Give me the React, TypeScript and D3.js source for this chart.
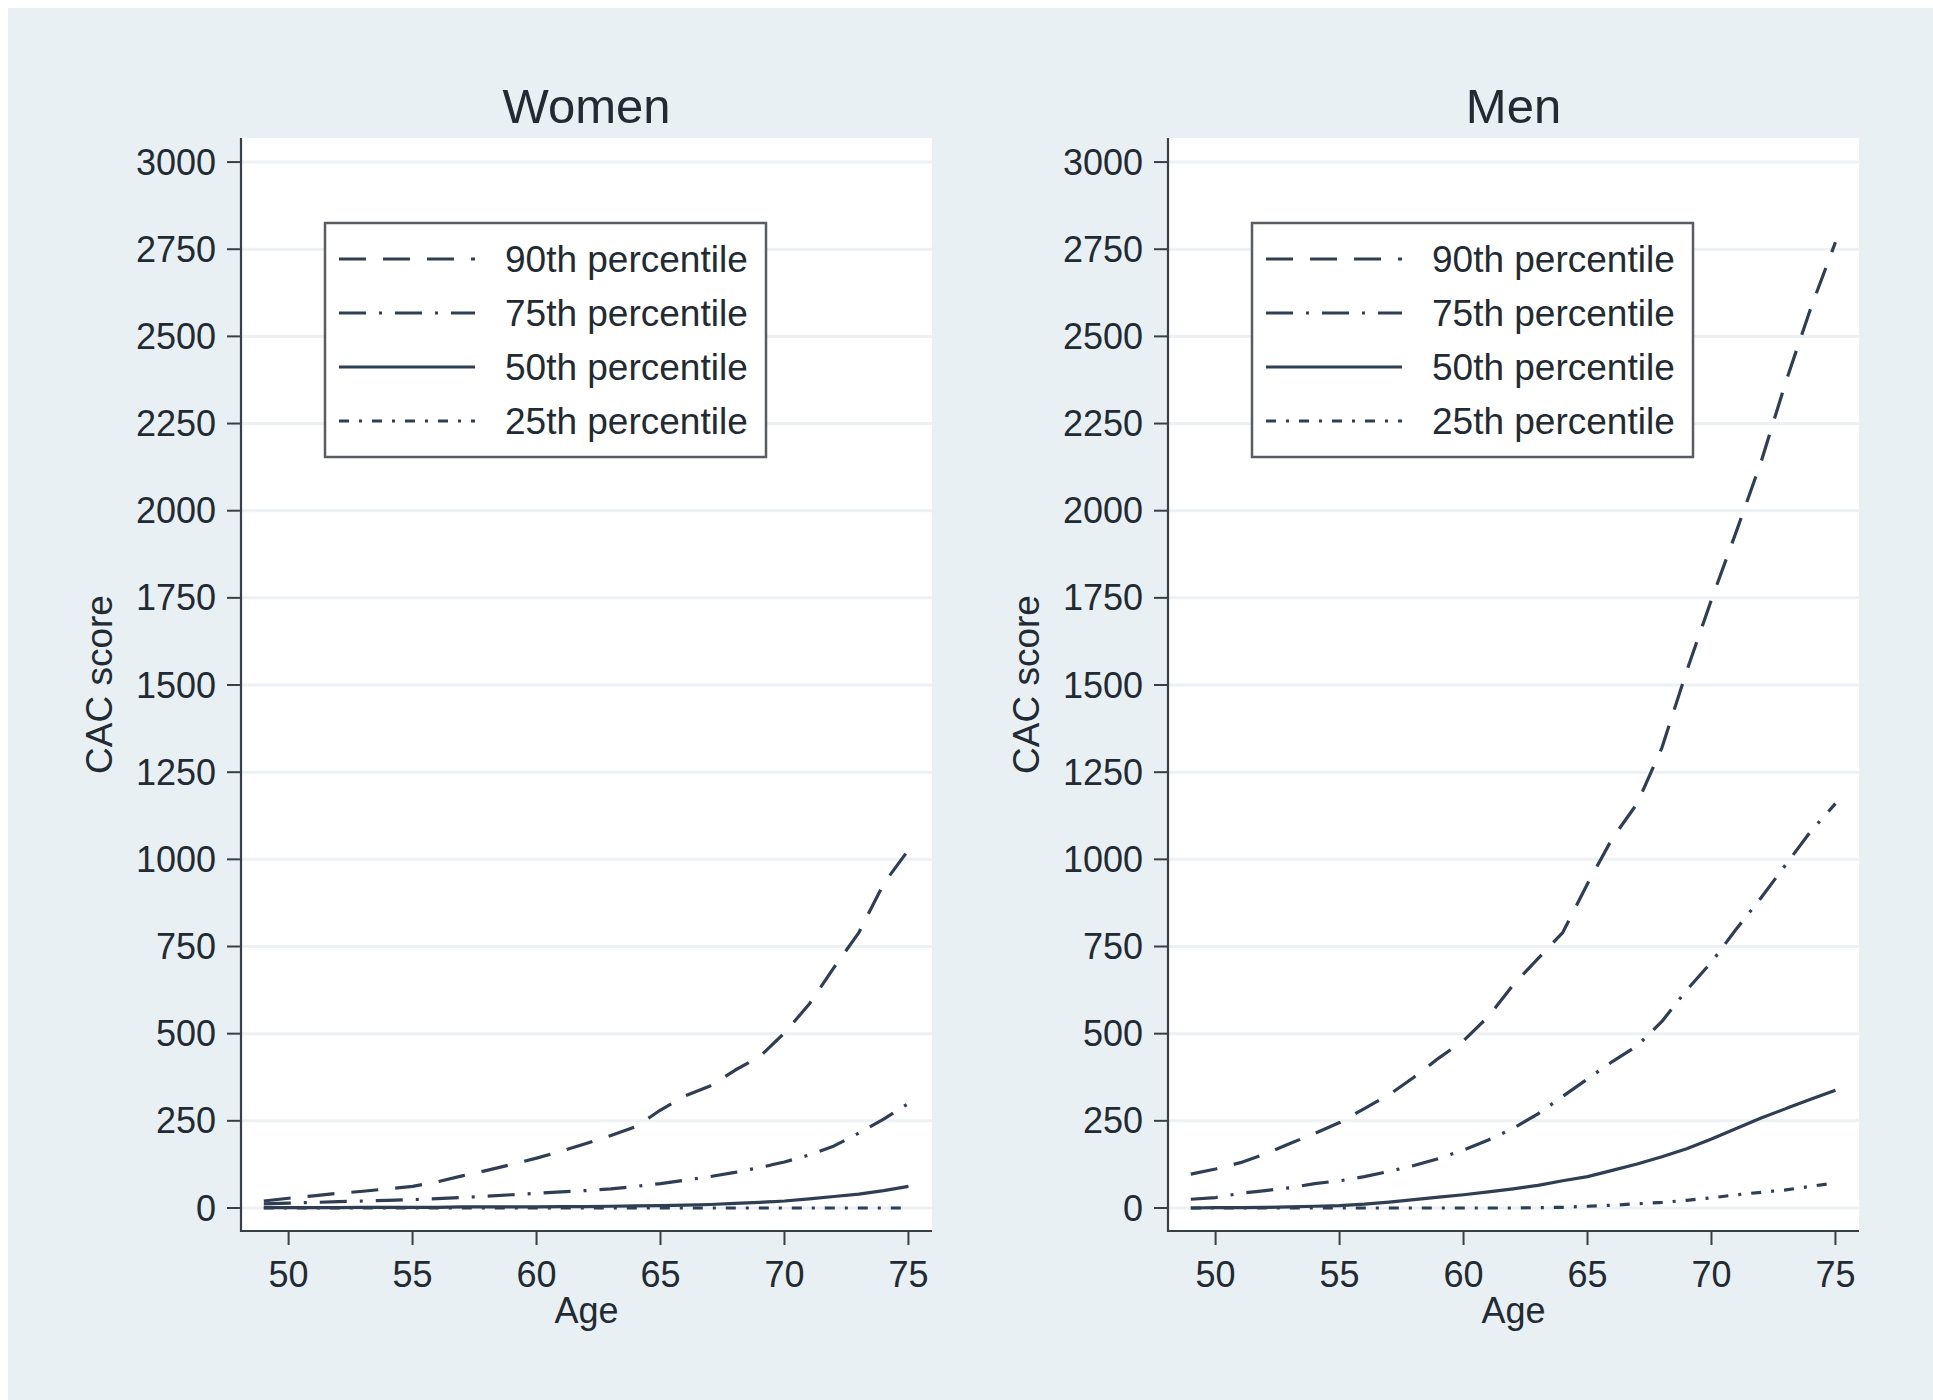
import React from 'react';
import * as d3 from 'd3';

// ---- data ----
const AGES = [49, 50, 51, 52, 53, 54, 55, 56, 57, 58, 59, 60, 61, 62, 63, 64, 65, 66, 67, 68, 69, 70, 71, 72, 73, 74, 75];

const WOMEN_P90 = [20, 28, 35, 42, 48, 55, 62, 75, 92, 108, 125, 143, 163, 185, 208, 233, 281, 322, 350, 395, 434, 502, 585, 690, 790, 930, 1027];
const WOMEN_P75 = [12, 14, 16, 18, 20, 22, 24, 27, 30, 34, 38, 42, 46, 50, 55, 62, 70, 80, 90, 102, 116, 132, 152, 178, 215, 255, 300];
const WOMEN_P50 = [1, 1, 1, 1, 2, 2, 2, 2, 3, 3, 3, 3, 4, 4, 5, 6, 7, 8, 10, 13, 16, 20, 26, 33, 40, 50, 62];
const WOMEN_P25 = [0, 0, 0, 0, 0, 0, 0, 0, 0, 0, 0, 0, 0, 0, 0, 0, 0, 0, 0, 0, 0, 0, 0, 0, 0, 0, 0];

const MEN_P90 = [97, 112, 130, 155, 185, 214, 245, 285, 325, 375, 430, 480, 549, 640, 715, 790, 930, 1060, 1160, 1320, 1540, 1745, 1940, 2140, 2370, 2580, 2770];
const MEN_P75 = [25, 30, 42, 50, 58, 70, 78, 90, 105, 122, 142, 166, 195, 228, 270, 320, 370, 420, 465, 535, 625, 705, 800, 890, 985, 1080, 1160];
const MEN_P50 = [0, 1, 1, 2, 3, 5, 7, 11, 17, 24, 31, 38, 46, 55, 65, 78, 90, 108, 126, 147, 170, 198, 228, 258, 285, 312, 338];
const MEN_P25 = [0, 0, 0, 0, 0, 0, 0, 0, 0, 0, 0, 0, 0, 0, 1, 2, 5, 8, 12, 16, 22, 29, 38, 45, 52, 62, 72];

const Y_TICKS = [0, 250, 500, 750, 1000, 1250, 1500, 1750, 2000, 2250, 2500, 2750, 3000];
const X_TICKS = [50, 55, 60, 65, 70, 75];

const SERIES_LABELS = ['90th percentile', '75th percentile', '50th percentile', '25th percentile'];
const SERIES_DASH = ['27,17', '27,13,3,13', '', '10,10,3,10'];

const PANELS = [
  { title: 'Women', series: [WOMEN_P90, WOMEN_P75, WOMEN_P50, WOMEN_P25] },
  { title: 'Men', series: [MEN_P90, MEN_P75, MEN_P50, MEN_P25] },
];

// ---- styling / layout ----
const FONT = '"Liberation Sans", Arial, Helvetica, sans-serif';
const BG = '#e8f0f3';
const LINE = '#2f3e52';
const TEXT = '#222a33';
const AXIS = '#3a3f45';
const GRID = '#edf1f3';

const PLOT_LEFT = 241;
const PLOT_RIGHT = 932;
const PLOT_TOP = 138;
const PLOT_BOTTOM = 1231;
const PANEL_OFFSET = 927;

function Panel({ title, series, dx }: { title: string; series: number[][]; dx: number }) {
  const x = d3.scaleLinear().domain([48.08, 75.95]).range([PLOT_LEFT + dx, PLOT_RIGHT + dx]);
  const y = d3.scaleLinear().domain([-66, 3069]).range([PLOT_BOTTOM, PLOT_TOP]);
  const x0 = PLOT_LEFT + dx;
  const x1 = PLOT_RIGHT + dx;
  const cx = (x0 + x1) / 2;
  const cy = (PLOT_TOP + PLOT_BOTTOM) / 2;

  const lineGen = d3
    .line<number>()
    .x((_, i) => x(AGES[i]))
    .y((v) => y(v))
    .curve(d3.curveLinear);

  const legLeft = x0 + 84;
  const legRight = x0 + 525;
  const legTop = 223;
  const legBottom = 457;

  return (
    <g>
      <rect x={x0} y={PLOT_TOP} width={x1 - x0} height={PLOT_BOTTOM - PLOT_TOP} fill="#ffffff" />
      {Y_TICKS.map((t) => (
        <line key={'g' + t} x1={x0} x2={x1} y1={y(t)} y2={y(t)} stroke={GRID} strokeWidth={3} />
      ))}
      {/* series */}
      {series.map((s, i) => (
        <path
          key={'s' + i}
          d={lineGen(s) || ''}
          fill="none"
          stroke={LINE}
          strokeWidth={3.2}
          strokeDasharray={SERIES_DASH[i] || undefined}
          strokeLinejoin="round"
        />
      ))}
      {/* axes */}
      <line x1={x0} x2={x0} y1={PLOT_TOP} y2={PLOT_BOTTOM + 1} stroke={AXIS} strokeWidth={2.2} />
      <line x1={x0} x2={x1} y1={PLOT_BOTTOM} y2={PLOT_BOTTOM} stroke={AXIS} strokeWidth={2.2} />
      {Y_TICKS.map((t) => (
        <g key={'yt' + t}>
          <line x1={x0 - 14} x2={x0} y1={y(t)} y2={y(t)} stroke={AXIS} strokeWidth={2} />
          <text x={x0 - 25} y={y(t)} dy="0.35em" textAnchor="end" fontFamily={FONT} fontSize={36} fill={TEXT}>
            {t}
          </text>
        </g>
      ))}
      {X_TICKS.map((t) => (
        <g key={'xt' + t}>
          <line x1={x(t)} x2={x(t)} y1={PLOT_BOTTOM} y2={PLOT_BOTTOM + 14} stroke={AXIS} strokeWidth={2} />
          <text x={x(t)} y={1287} textAnchor="middle" fontFamily={FONT} fontSize={36} fill={TEXT}>
            {t}
          </text>
        </g>
      ))}
      <text x={cx} y={1323} textAnchor="middle" fontFamily={FONT} fontSize={36} fill={TEXT}>
        Age
      </text>
      <text
        transform={`translate(${x0 - 142},${cy}) rotate(-90)`}
        textAnchor="middle"
        dy="0.35em"
        fontFamily={FONT}
        fontSize={37}
        fill={TEXT}
      >
        CAC score
      </text>
      <text x={cx} y={123} textAnchor="middle" fontFamily={FONT} fontSize={49} fill={TEXT}>
        {title}
      </text>
      {/* legend */}
      <rect
        x={legLeft}
        y={legTop}
        width={legRight - legLeft}
        height={legBottom - legTop}
        fill="#ffffff"
        stroke="#595d62"
        strokeWidth={2.5}
      />
      {SERIES_LABELS.map((lab, i) => {
        const base = 272 + i * 54;
        return (
          <g key={'l' + i}>
            <line
              x1={legLeft + 14}
              x2={legLeft + 150}
              y1={base - 13}
              y2={base - 13}
              stroke={LINE}
              strokeWidth={3}
              strokeDasharray={SERIES_DASH[i] || undefined}
            />
            <text x={legLeft + 180} y={base} fontFamily={FONT} fontSize={37} fill={TEXT}>
              {lab}
            </text>
          </g>
        );
      })}
    </g>
  );
}

export default function App() {
  return (
    <svg
      width={1925}
      height={1392}
      style={{ position: 'fixed', left: 8, top: 8, display: 'block' }}
    >
      <g transform="translate(-8,-8)">
        <rect x={8} y={8} width={1925} height={1392} fill={BG} />
        {PANELS.map((p, i) => (
          <Panel key={p.title} title={p.title} series={p.series} dx={i * PANEL_OFFSET} />
        ))}
      </g>
    </svg>
  );
}
